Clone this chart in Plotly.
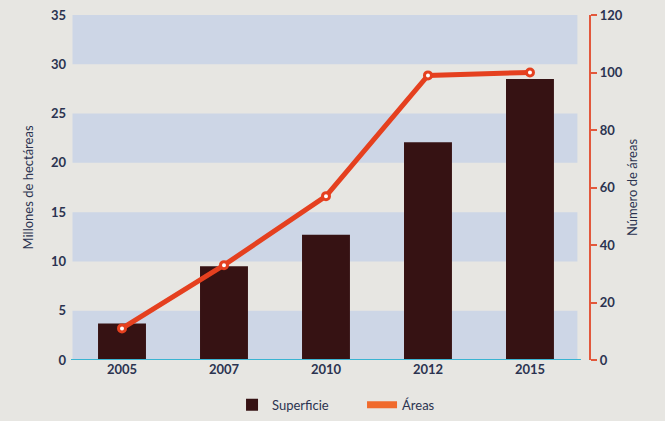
import plotly.graph_objects as go

years = ["2005", "2007", "2010", "2012", "2015"]
superficie = [3.7, 9.5, 12.7, 22.1, 28.5]
areas = [11, 33, 57, 99, 100]
band_ranges = [(0, 5), (10, 15), (20, 25), (30, 35)]

BG = "#e7e6e2"
BAND = "#cdd6e6"
TEXT = "#2b3350"
RED = "#e5401f"
AXRED = "#e2583c"

fig = go.Figure()
fig.add_trace(go.Bar(x=years, y=superficie, name="Superficie",
                     marker=dict(color="#361213", line=dict(width=0)),
                     width=0.47, yaxis="y"))
fig.add_trace(go.Scatter(x=years, y=areas, mode="lines+markers", name="Áreas",
                         line=dict(color=RED, width=5),
                         marker=dict(size=7, color="white", line=dict(color=RED, width=3)),
                         yaxis="y2", showlegend=False))
fig.add_trace(go.Scatter(x=[None], y=[None], mode="lines", name="Áreas",
                         line=dict(color="#f06a2c", width=7), yaxis="y2"))

for lo, hi in band_ranges:
    fig.add_shape(type="rect", xref="x domain", yref="y", x0=0.003, x1=0.993,
                  y0=lo, y1=hi, fillcolor=BAND, line=dict(width=0), layer="below")

fig.add_shape(type="line", xref="x domain", yref="y", x0=0, x1=1, y0=0, y1=0,
              line=dict(color="#3ab4d2", width=2), layer="above")

tf = dict(family="Lato", size=13, color=TEXT, weight="bold")

fig.update_layout(
    width=665, height=421,
    margin=dict(l=71, r=60, t=15, b=61, autoexpand=False),
    paper_bgcolor=BG, plot_bgcolor=BG,
    font=dict(family="Lato", size=13, color=TEXT),
    xaxis=dict(domain=[0, 0.955], type="category", showgrid=False, zeroline=False,
               showline=False, ticks="", tickfont=tf, automargin=False),
    yaxis=dict(range=[0, 35], dtick=5, showgrid=False, zeroline=False, showline=False,
               ticks="", ticklabelstandoff=4, tickfont=tf, automargin=False,
               title=dict(text="Millones de hectáreas", standoff=14,
                          font=dict(family="Lato", size=13, color=TEXT))),
    yaxis2=dict(range=[0, 120], dtick=20, overlaying="y", side="right", anchor="free",
                position=0.972, showgrid=False, zeroline=False, showline=True,
                linecolor=AXRED, linewidth=2, ticks="outside", ticklen=6, tickwidth=2,
                tickcolor=AXRED, tickfont=tf, automargin=False,
                title=dict(text="Número de áreas", standoff=5,
                           font=dict(family="Lato", size=13, color=TEXT))),
    legend=dict(orientation="h", x=0.545, xanchor="center", y=-0.13, yanchor="middle",
                bgcolor="rgba(0,0,0,0)", font=dict(family="Lato", size=13, color=TEXT),
                entrywidth=85, entrywidthmode="pixels"),
)

fig.write_html("out.html", config={"displayModeBar": False},
               post_script="document.body.style.margin='0';document.body.style.background='#e7e6e2';")
